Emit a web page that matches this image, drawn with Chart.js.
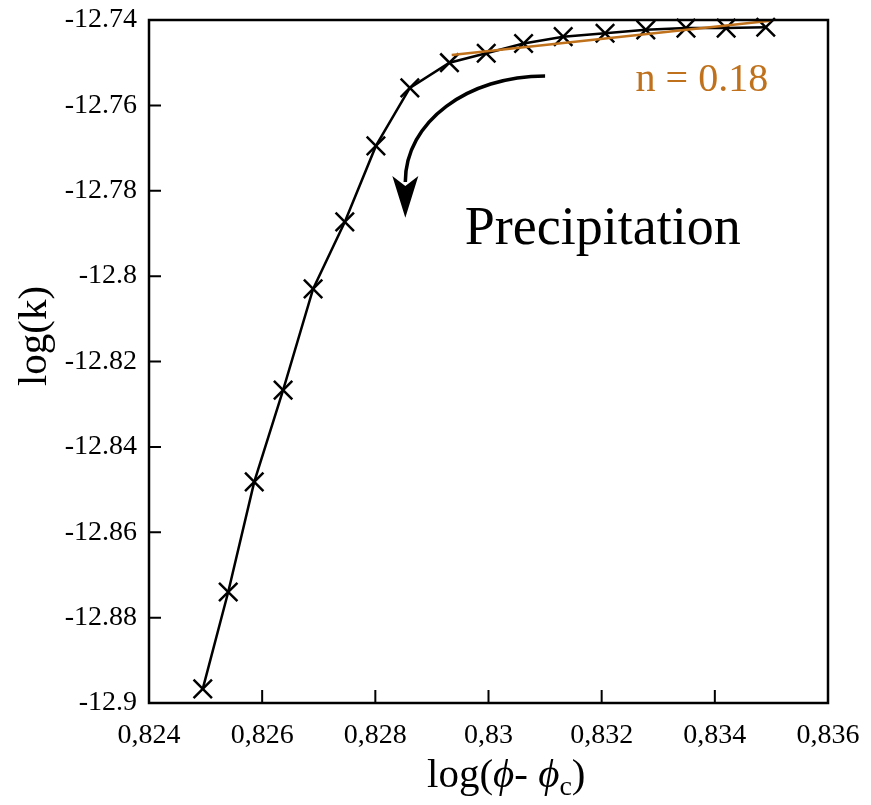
<!DOCTYPE html>
<html>
<head>
<meta charset="utf-8">
<script src="https://cdn.jsdelivr.net/npm/chart.js@4/dist/chart.umd.min.js"></script>
<style>
  html, body { margin: 0; padding: 0; background: #fff; }
  #wrap { width: 871px; height: 805px; }
</style>
</head>
<body>
<div id="wrap"><canvas id="grafico" width="871" height="805"></canvas></div>
<script>
// datos
const logPhi = [0.82495, 0.8254, 0.82586, 0.82637, 0.8269, 0.82746, 0.82801, 0.82861,
                0.82931, 0.82996, 0.83062, 0.83132, 0.83206, 0.83278, 0.83349, 0.8342, 0.8349];
const logK = [-12.8967, -12.874, -12.8482, -12.8267, -12.803, -12.7873, -12.7695, -12.7559,
              -12.75, -12.7478, -12.7455, -12.7439, -12.7431, -12.7423, -12.7419, -12.7419, -12.7417];
const ajusteX = [0.82935, 0.83498];
const ajusteY = [-12.7482, -12.7402];

const xTicks = [0.824, 0.826, 0.828, 0.83, 0.832, 0.834, 0.836];
const xTickLabels = ['0,824', '0,826', '0,828', '0,83', '0,832', '0,834', '0,836'];
const yTicks = [-12.9, -12.88, -12.86, -12.84, -12.82, -12.8, -12.78, -12.76, -12.74];
const yTickLabels = ['-12.9', '-12.88', '-12.86', '-12.84', '-12.82', '-12.8', '-12.78', '-12.76', '-12.74'];

const serif = "'Liberation Serif', 'Times New Roman', serif";
const naranja = '#c0711c';

// marco, ticks hacia dentro, etiquetas, flecha y textos
const extras = {
    id: 'extras',
    afterDraw(chart) {
        const ctx = chart.ctx;
        const a = chart.chartArea;
        const xs = chart.scales.x, ys = chart.scales.y;
        ctx.save();
        ctx.strokeStyle = '#000';
        ctx.lineWidth = 2.5;
        ctx.strokeRect(a.left, a.top, a.right - a.left, a.bottom - a.top);

        ctx.lineWidth = 2;
        ctx.beginPath();
        xTicks.forEach(v => {
            const px = xs.getPixelForValue(v);
            ctx.moveTo(px, a.bottom);
            ctx.lineTo(px, a.bottom - 13);
        });
        yTicks.forEach(v => {
            const py = ys.getPixelForValue(v);
            ctx.moveTo(a.left, py);
            ctx.lineTo(a.left + 12, py);
        });
        ctx.stroke();

        // etiquetas de los ejes
        ctx.fillStyle = '#000';
        ctx.font = '28px ' + serif;
        ctx.textAlign = 'center';
        ctx.textBaseline = 'alphabetic';
        xTicks.forEach((v, i) => {
            ctx.fillText(xTickLabels[i], xs.getPixelForValue(v), a.bottom + 40);
        });
        ctx.textAlign = 'right';
        ctx.textBaseline = 'middle';
        yTicks.forEach((v, i) => {
            ctx.fillText(yTickLabels[i], a.left - 12, ys.getPixelForValue(v));
        });

        // flecha curva
        const x0 = xs.getPixelForValue(0.8310), y0 = ys.getPixelForValue(-12.7531);
        const x1 = xs.getPixelForValue(0.82853), y1 = ys.getPixelForValue(-12.7770);
        const tipY = ys.getPixelForValue(-12.7863);
        const rx = x0 - x1, ry = y1 - y0;
        ctx.lineWidth = 3.5;
        ctx.beginPath();
        ctx.moveTo(x0, y0);
        ctx.bezierCurveTo(x0 - 0.552 * rx, y0, x1, y1 - 0.552 * ry, x1, y1 + 4);
        ctx.stroke();
        ctx.beginPath();
        ctx.moveTo(x1, tipY);
        ctx.lineTo(x1 - 13, y1 - 2);
        ctx.lineTo(x1, y1 + 8);
        ctx.lineTo(x1 + 13, y1 - 2);
        ctx.closePath();
        ctx.fill();

        // textos
        ctx.textBaseline = 'alphabetic';
        ctx.textAlign = 'left';
        ctx.font = '54px ' + serif;
        ctx.fillText('Precipitation', xs.getPixelForValue(0.82958), ys.getPixelForValue(-12.7925));

        ctx.fillStyle = naranja;
        ctx.font = '40px ' + serif;
        ctx.fillText('n = 0.18', xs.getPixelForValue(0.83260), ys.getPixelForValue(-12.7566));

        // titulo eje x con subindice
        ctx.fillStyle = '#000';
        const base = 787;
        let cx = 427;
        const partes = [
            ['log(', '41px ' + serif, 0],
            ['\u03D5', 'italic 41px ' + serif, 0],
            ['- ', '41px ' + serif, 0],
            ['\u03D5', 'italic 41px ' + serif, 0],
            ['c', '28px ' + serif, 8],
            [')', '41px ' + serif, 0]
        ];
        partes.forEach(p => {
            ctx.font = p[1];
            ctx.fillText(p[0], cx, base + p[2]);
            cx += ctx.measureText(p[0]).width;
        });

        // titulo eje y
        ctx.translate(46, 336);
        ctx.rotate(-Math.PI / 2);
        ctx.textAlign = 'center';
        ctx.font = '41px ' + serif;
        ctx.fillText('log(k)', 0, 0);
        ctx.restore();
    }
};

const ctx = document.getElementById('grafico').getContext('2d');
new Chart(ctx, {
    type: 'scatter',
    data: {
        datasets: [{
            label: 'ajuste',
            data: ajusteX.map((x, i) => ({ x: x, y: ajusteY[i] })),
            showLine: true,
            borderColor: naranja,
            borderWidth: 2.5,
            pointRadius: 0,
            order: 0
        }, {
            label: 'log(k)',
            data: logPhi.map((x, i) => ({ x: x, y: logK[i] })),
            showLine: true,
            borderColor: '#000',
            borderWidth: 2.5,
            pointStyle: 'crossRot',
            pointRadius: 13,
            pointBorderWidth: 2.5,
            pointBorderColor: '#000',
            pointBackgroundColor: '#000',
            order: 1
        }]
    },
    options: {
        responsive: false,
        animation: false,
        clip: false,
        layout: { padding: { top: 20, right: 43, left: 0, bottom: 0 } },
        plugins: {
            legend: { display: false },
            tooltip: { enabled: false }
        },
        scales: {
            x: {
                type: 'linear',
                min: 0.824,
                max: 0.836,
                grid: { display: false, drawTicks: false },
                border: { display: false },
                afterBuildTicks: s => { s.ticks = xTicks.map(v => ({ value: v })); },
                afterFit: s => { s.height = 102; },
                ticks: { display: false }
            },
            y: {
                type: 'linear',
                min: -12.9,
                max: -12.74,
                grid: { display: false, drawTicks: false },
                border: { display: false },
                afterBuildTicks: s => { s.ticks = yTicks.map(v => ({ value: v })); },
                afterFit: s => { s.width = 149; },
                ticks: { display: false }
            }
        }
    },
    plugins: [extras]
});
</script>
</body>
</html>
